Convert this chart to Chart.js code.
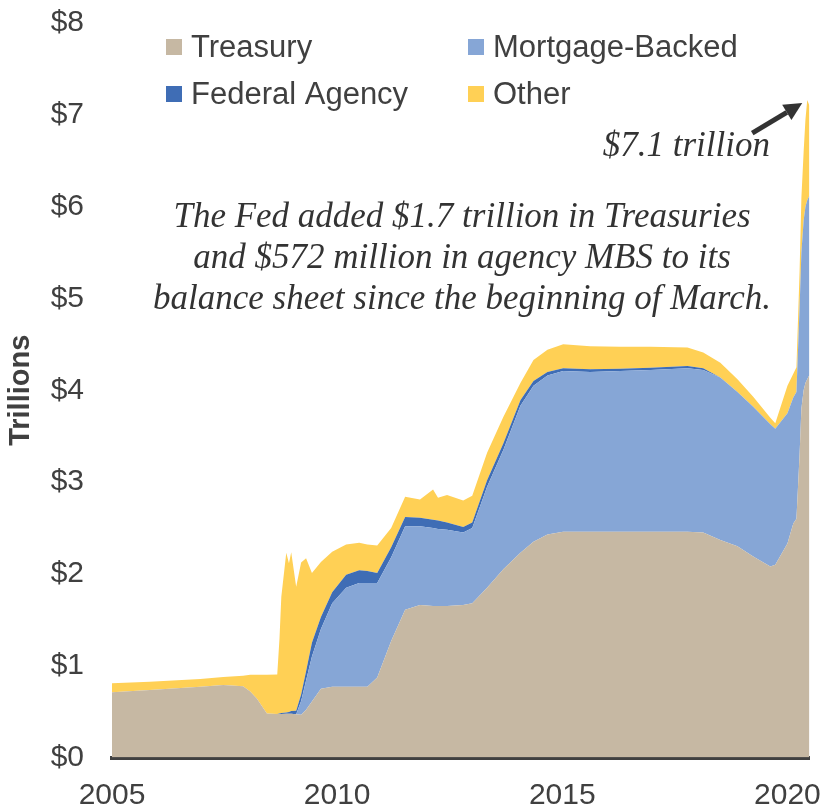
<!DOCTYPE html>
<html>
<head>
<meta charset="utf-8">
<script src="https://cdn.jsdelivr.net/npm/chart.js@4.4.0/dist/chart.umd.min.js"></script>
<style>
  html, body { margin: 0; padding: 0; background: #fff; }
  #wrap { width: 825px; height: 811px; position: relative; }
</style>
</head>
<body>
<div id="wrap"><canvas id="fedChart"></canvas></div>
<script>
// Fed balance sheet, trillions of dollars
const years = [2005.00, 2005.84, 2006.96, 2007.47, 2007.91, 2008.07, 2008.22, 2008.44, 2008.67, 2008.72,
               2008.76, 2008.87, 2008.93, 2008.98, 2009.09, 2009.20, 2009.31, 2009.44, 2009.64, 2009.89,
               2010.20, 2010.49, 2010.67, 2010.89, 2011.20, 2011.51, 2011.84, 2012.13, 2012.24, 2012.44,
               2012.80, 2013.00, 2013.33, 2013.69, 2014.07, 2014.36, 2014.67, 2015.02, 2015.62, 2016.29,
               2016.96, 2017.78, 2018.13, 2018.51, 2018.89, 2019.24, 2019.62, 2019.73, 2020.00, 2020.13,
               2020.20, 2020.27, 2020.31, 2020.36, 2020.40, 2020.44, 2020.49];

const treasury = [0.71, 0.735, 0.77, 0.79, 0.775, 0.72, 0.64, 0.48, 0.475, 0.475,
                  0.475, 0.476, 0.476, 0.476, 0.47, 0.465, 0.52, 0.61, 0.75, 0.77,
                  0.77, 0.77, 0.77, 0.87, 1.27, 1.61, 1.66, 1.65, 1.65, 1.65,
                  1.66, 1.68, 1.85, 2.05, 2.23, 2.35, 2.43, 2.46, 2.46, 2.46,
                  2.46, 2.46, 2.45, 2.37, 2.30, 2.19, 2.08, 2.10, 2.33, 2.55,
                  2.60, 3.30, 3.80, 4.00, 4.08, 4.12, 4.17];

const mortgageBacked = [0, 0, 0, 0, 0, 0, 0, 0, 0, 0,
                        0, 0, 0, 0, 0, 0.15, 0.32, 0.49, 0.65, 0.91,
                        1.08, 1.13, 1.13, 1.03, 0.91, 0.91, 0.86, 0.85, 0.84, 0.83,
                        0.79, 0.82, 1.10, 1.30, 1.60, 1.70, 1.73, 1.75, 1.74, 1.75,
                        1.76, 1.78, 1.77, 1.77, 1.68, 1.63, 1.55, 1.48, 1.42, 1.37,
                        1.38, 1.60, 1.70, 1.85, 1.92, 1.95, 1.95];

const federalAgency = [0, 0, 0, 0, 0, 0, 0, 0, 0, 0.005,
                       0.01, 0.015, 0.02, 0.03, 0.04, 0.07, 0.10, 0.15, 0.13, 0.12,
                       0.14, 0.14, 0.13, 0.11, 0.11, 0.10, 0.09, 0.09, 0.09, 0.08,
                       0.06, 0.06, 0.07, 0.07, 0.06, 0.05, 0.04, 0.03, 0.03, 0.025,
                       0.025, 0.025, 0.02, 0, 0, 0, 0, 0, 0, 0,
                       0, 0, 0, 0, 0, 0, 0];

const other = [0.10, 0.09, 0.085, 0.087, 0.115, 0.18, 0.26, 0.42, 0.43, 0.82,
               1.265, 1.74, 1.62, 1.73, 1.35, 1.44, 1.23, 0.76, 0.60, 0.44,
               0.33, 0.30, 0.29, 0.30, 0.21, 0.22, 0.20, 0.33, 0.25, 0.30,
               0.29, 0.29, 0.30, 0.29, 0.19, 0.23, 0.24, 0.26, 0.25, 0.24,
               0.23, 0.20, 0.17, 0.16, 0.14, 0.11, 0.07, 0.06, 0.30, 0.26,
               0.27, 0.40, 0.60, 0.75, 0.95, 1.09, 0.98];

const seriesNames = ['Treasury', 'Mortgage-Backed', 'Federal Agency', 'Other'];
const seriesColors = ['#c6b8a3', '#86a6d6', '#3f6db5', '#ffd055'];
const xTickYears = [2005, 2010, 2015, 2020];
const yTickValues = [0, 1, 2, 3, 4, 5, 6, 7, 8];
const noteLines = [
  'The Fed added $1.7 trillion in Treasuries',
  'and $572 million in agency MBS to its',
  'balance sheet since the beginning of March.'
];
const peakNote = '$7.1 trillion';

const textColor = '#404040';
const sans = '"Liberation Sans", Arial, sans-serif';
const serif = '"Liberation Serif", "Times New Roman", serif';

function toPoints(values) {
  return values.map((v, i) => ({ x: years[i], y: v }));
}

const seriesValues = [treasury, mortgageBacked, federalAgency, other];
const datasets = seriesValues.map((vals, i) => ({
  label: seriesNames[i],
  data: toPoints(vals),
  backgroundColor: seriesColors[i],
  borderColor: 'rgba(0,0,0,0)',
  borderWidth: 0,
  pointRadius: 0,
  tension: 0,
  fill: i === 0 ? 'origin' : '-1'
}));

// two-column legend sitting inside the plot
const gridLegend = {
  id: 'gridLegend',
  afterDraw(chart) {
    const ctx = chart.ctx;
    const cols = [166, 468], rows = [47, 94];
    ctx.save();
    ctx.font = '31px ' + sans;
    ctx.textBaseline = 'middle';
    ctx.textAlign = 'left';
    chart.data.datasets.forEach((ds, i) => {
      const x = cols[i % 2], y = rows[Math.floor(i / 2)];
      ctx.fillStyle = ds.backgroundColor;
      ctx.fillRect(x, y - 8, 16, 16);
      ctx.fillStyle = textColor;
      ctx.fillText(ds.label, x + 25, y + 1);
    });
    ctx.restore();
  }
};

const notes = {
  id: 'notes',
  afterDraw(chart) {
    const ctx = chart.ctx;
    const xs = chart.scales.x, ys = chart.scales.y;
    ctx.save();
    ctx.fillStyle = '#333333';
    ctx.font = 'italic 35px ' + serif;
    ctx.textAlign = 'center';
    ctx.textBaseline = 'alphabetic';
    noteLines.forEach((line, i) => ctx.fillText(line, 462, 227 + i * 41));

    ctx.textAlign = 'right';
    ctx.fillText(peakNote, 770, 156);

    // arrow to the peak of the total
    let peak = 0, best = -1;
    years.forEach((_, i) => {
      const tot = treasury[i] + mortgageBacked[i] + federalAgency[i] + other[i];
      if (tot > best) { best = tot; peak = i; }
    });
    const tipX = xs.getPixelForValue(years[peak]) - 5;
    const tipY = ys.getPixelForValue(best) + 3;
    const tailX = tipX - 50, tailY = tipY + 30;
    const len = Math.hypot(tipX - tailX, tipY - tailY);
    const ux = (tipX - tailX) / len, uy = (tipY - tailY) / len;
    const bx = tipX - ux * 18, by = tipY - uy * 18;
    ctx.strokeStyle = '#333333';
    ctx.lineWidth = 5;
    ctx.beginPath();
    ctx.moveTo(tailX, tailY);
    ctx.lineTo(bx, by);
    ctx.stroke();
    ctx.beginPath();
    ctx.moveTo(tipX, tipY);
    ctx.lineTo(bx - uy * 9, by + ux * 9);
    ctx.lineTo(bx + uy * 9, by - ux * 9);
    ctx.closePath();
    ctx.fill();
    ctx.restore();
  }
};

new Chart(document.getElementById('fedChart'), {
  type: 'line',
  data: { datasets: datasets },
  options: {
    responsive: true,
    maintainAspectRatio: false,
    animation: false,
    layout: { padding: { top: 23, right: 15.5, bottom: 0, left: 0 } },
    plugins: {
      legend: { display: false },
      tooltip: { enabled: false }
    },
    scales: {
      x: {
        type: 'linear',
        min: 2005,
        max: years[years.length - 1],
        grid: { display: false, drawTicks: false },
        border: { display: true, color: '#404040', width: 4 },
        afterBuildTicks: (scale) => { scale.ticks = xTickYears.map(v => ({ value: v })); },
        afterFit: (scale) => {
          scale.height = 53.5;
          scale.paddingLeft = 0;
          scale.paddingRight = 0;
        },
        ticks: {
          color: textColor,
          font: { family: sans, size: 30 },
          padding: 20,
          maxRotation: 0,
          callback: (v) => String(v)
        }
      },
      y: {
        stacked: true,
        min: 0,
        max: 8,
        grid: { display: false, drawTicks: false },
        border: { display: false },
        afterBuildTicks: (scale) => { scale.ticks = yTickValues.map(v => ({ value: v })); },
        afterFit: (scale) => {
          scale.width = 112;
          scale.paddingTop = 0;
          scale.paddingBottom = 0;
        },
        ticks: {
          color: textColor,
          font: { family: sans, size: 30 },
          padding: 28,
          callback: (v) => '$' + v
        },
        title: {
          display: true,
          text: 'Trillions',
          color: textColor,
          font: { family: sans, size: 29, weight: 'bold' },
          padding: { top: 4, bottom: 0 }
        }
      }
    }
  },
  plugins: [gridLegend, notes]
});
</script>
</body>
</html>
